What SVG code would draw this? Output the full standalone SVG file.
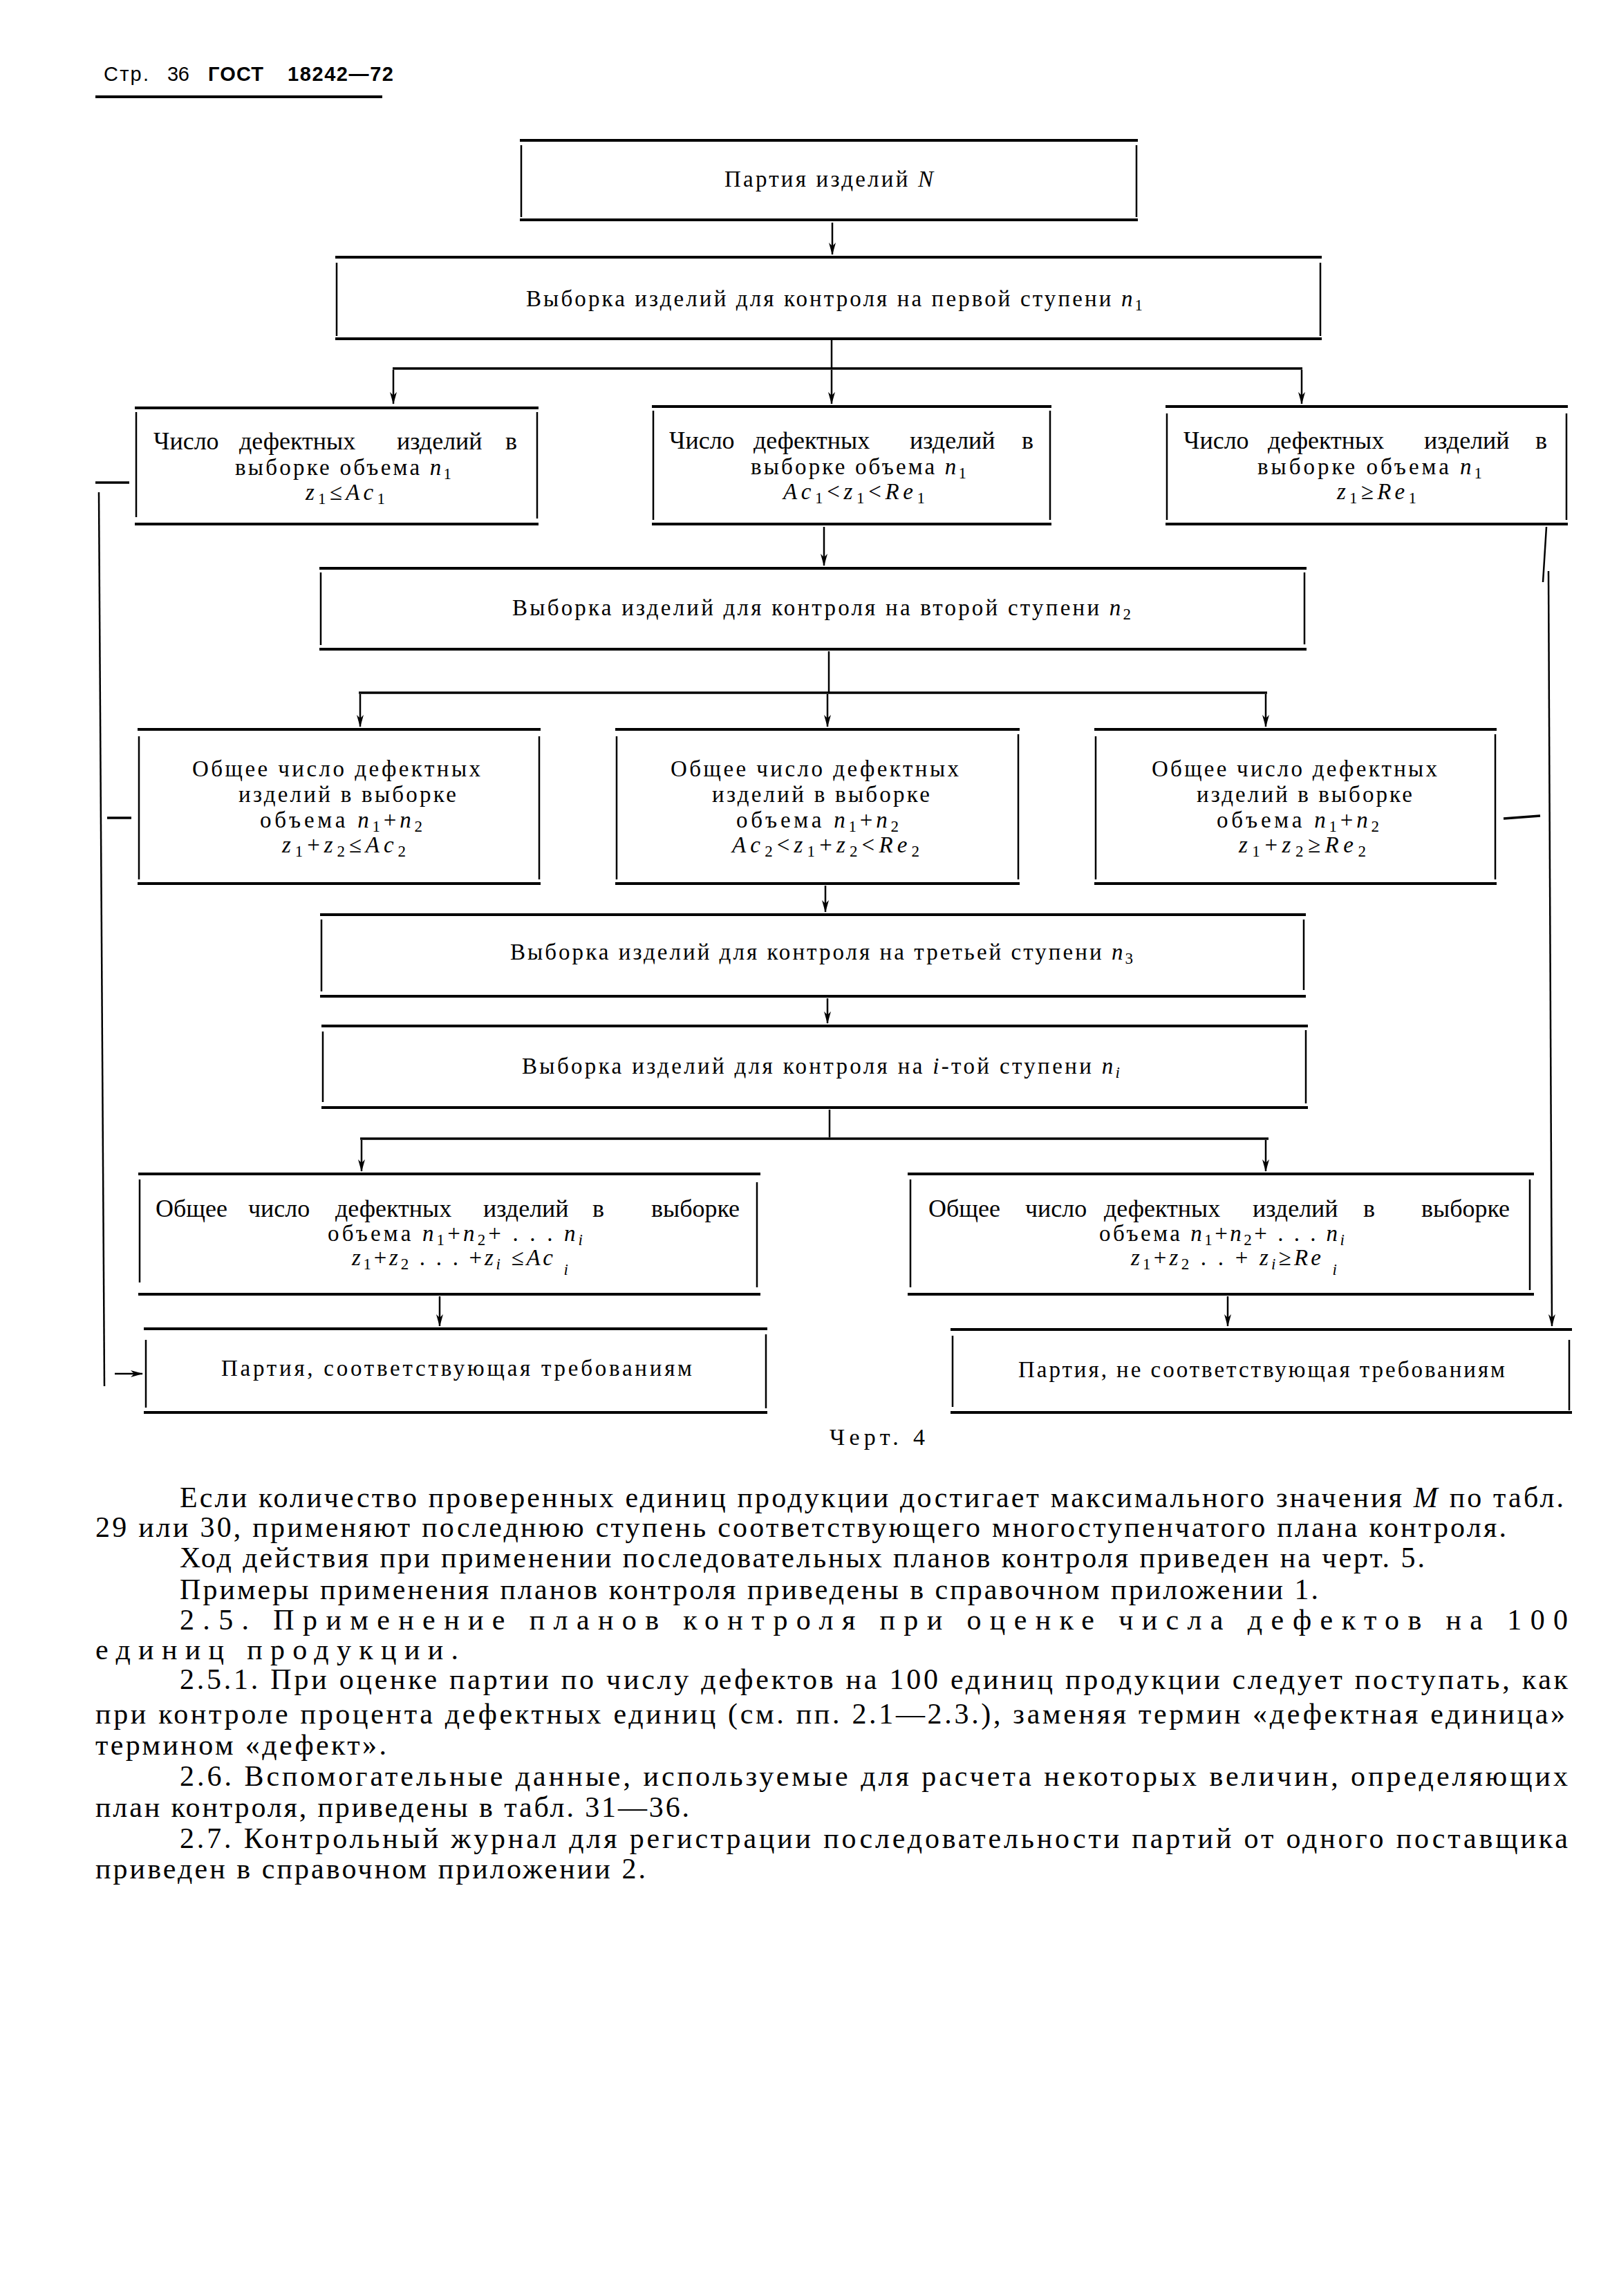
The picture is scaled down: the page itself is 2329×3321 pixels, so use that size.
<svg xmlns="http://www.w3.org/2000/svg" width="2329" height="3321" viewBox="0 0 2329 3321">
<style>
  .bh{fill:none;stroke:#000;stroke-width:4;stroke-linecap:square}
  .bv{fill:none;stroke:#000;stroke-width:2.5}
  .t{font-family:"Liberation Serif","DejaVu Serif",serif;font-size:33px;fill:#000}
  .w{font-size:36px}
  .s{font-size:23px}
  .p{font-family:"Liberation Serif","DejaVu Serif",serif;font-size:42px;fill:#000}
  .cap{font-family:"Liberation Serif","DejaVu Serif",serif;font-size:34px;fill:#000}
  .hd{font-family:"Liberation Sans","DejaVu Sans",sans-serif;font-size:29px;fill:#000}
  .i{font-style:italic}
  .cn{fill:none;stroke:#000;stroke-width:2.5}
  .ch{fill:none;stroke:#000;stroke-width:3.5}
</style>
<defs>
  <marker id="ar" viewBox="0 0 18 10" markerWidth="18" markerHeight="10" refX="17" refY="5" orient="auto" markerUnits="userSpaceOnUse">
    <path d="M0,0 L18,5 L0,10 L5,5 z" fill="#000"/>
  </marker>
</defs>
<rect width="2329" height="3321" fill="#fff"/>

<g id="header">
  <text class="hd" x="150" y="117" textLength="65" lengthAdjust="spacing">Стр.</text>
  <text class="hd" x="242" y="117" textLength="32" lengthAdjust="spacing">36</text>
  <text class="hd" x="301" y="117" font-weight="bold" textLength="80" lengthAdjust="spacing">ГОСТ</text>
  <text class="hd" x="416" y="117" font-weight="bold" textLength="153" lengthAdjust="spacing">18242—72</text>
  <line x1="138" y1="140" x2="553" y2="140" stroke="#000" stroke-width="4"/>
</g>

<g id="connectors">
  <line class="cn" x1="1204" y1="322" x2="1204" y2="368" marker-end="url(#ar)"/>
  <line class="cn" x1="1203" y1="492" x2="1203" y2="533"/>
  <line class="ch" x1="568" y1="533" x2="1884" y2="533"/>
  <line class="cn" x1="569" y1="535" x2="569" y2="584" marker-end="url(#ar)"/>
  <line class="cn" x1="1203" y1="535" x2="1203" y2="584" marker-end="url(#ar)"/>
  <line class="cn" x1="1883" y1="535" x2="1883" y2="584" marker-end="url(#ar)"/>
  <line class="cn" x1="1192" y1="762" x2="1192" y2="818" marker-end="url(#ar)"/>
  <line class="cn" x1="1199" y1="942" x2="1199" y2="1002"/>
  <line class="ch" x1="519" y1="1002" x2="1833" y2="1002"/>
  <line class="cn" x1="521" y1="1004" x2="521" y2="1051" marker-end="url(#ar)"/>
  <line class="cn" x1="1197" y1="1004" x2="1197" y2="1051" marker-end="url(#ar)"/>
  <line class="cn" x1="1831" y1="1004" x2="1831" y2="1051" marker-end="url(#ar)"/>
  <line class="cn" x1="1194" y1="1281" x2="1194" y2="1319" marker-end="url(#ar)"/>
  <line class="cn" x1="1197" y1="1444" x2="1197" y2="1480" marker-end="url(#ar)"/>
  <line class="cn" x1="1200" y1="1605" x2="1200" y2="1645"/>
  <line class="ch" x1="521" y1="1647" x2="1835" y2="1647"/>
  <line class="cn" x1="523" y1="1649" x2="523" y2="1694" marker-end="url(#ar)"/>
  <line class="cn" x1="1831" y1="1649" x2="1831" y2="1694" marker-end="url(#ar)"/>
  <line class="cn" x1="636" y1="1875" x2="636" y2="1918" marker-end="url(#ar)"/>
  <line class="cn" x1="1776" y1="1875" x2="1776" y2="1918" marker-end="url(#ar)"/>
  <line class="ch" x1="138" y1="698" x2="187" y2="698"/>
  <line class="ch" x1="155" y1="1183" x2="190" y2="1183"/>
  <line class="cn" x1="143" y1="712" x2="151" y2="2005"/>
  <line class="cn" x1="166" y1="1987" x2="206" y2="1987" marker-end="url(#ar)"/>
  <line class="cn" x1="2237" y1="762" x2="2232" y2="842"/>
  <line class="ch" x1="2175" y1="1184" x2="2228" y2="1180"/>
  <line class="cn" x1="2240" y1="826" x2="2245" y2="1918" marker-end="url(#ar)"/>
</g>

<g id="n_lot">
  <path class="bh" d="M754,203 H1644 M754,318 H1644"/>
  <path class="bv" d="M754,210 V314 M1644,210 V314"/>
  <text class="t" x="1048" y="270" textLength="302" lengthAdjust="spacing">Партия изделий <tspan class="i">N</tspan></text>
</g>

<g id="n_stage1">
  <path class="bh" d="M487,372 H1910 M487,490 H1910"/>
  <path class="bv" d="M487,380 V486 M1910,380 V486"/>
  <text class="t" x="761" y="443" textLength="892" lengthAdjust="spacing">Выборка изделий для контроля на первой ступени <tspan class="i">n</tspan><tspan class="s" dy="6">1</tspan></text>
</g>

<g id="n_a1">
  <path class="bh" d="M197,590 H777 M197,758 H777"/>
  <path class="bv" d="M197,596 V748 M777,596 V750"/>
  <text class="t w" y="650"><tspan x="222">Число</tspan><tspan x="346">дефектных</tspan><tspan x="574">изделий</tspan><tspan x="731">в</tspan></text>
  <text class="t" x="340" y="687" textLength="313" lengthAdjust="spacing">выборке объема <tspan class="i">n</tspan><tspan class="s" dy="6">1</tspan></text>
  <text class="t" x="442" y="723" textLength="115" lengthAdjust="spacing"><tspan class="i">z</tspan><tspan class="s" dy="6">1</tspan><tspan dy="-6">≤</tspan><tspan class="i">Ac</tspan><tspan class="s" dy="6">1</tspan></text>
</g>

<g id="n_a2">
  <path class="bh" d="M945,588 H1519 M945,758 H1519"/>
  <path class="bv" d="M945,594 V752 M1519,594 V752"/>
  <text class="t w" y="649"><tspan x="968">Число</tspan><tspan x="1090">дефектных</tspan><tspan x="1316">изделий</tspan><tspan x="1478">в</tspan></text>
  <text class="t" x="1086" y="686" textLength="312" lengthAdjust="spacing">выборке объема <tspan class="i">n</tspan><tspan class="s" dy="6">1</tspan></text>
  <text class="t" x="1133" y="722" textLength="205" lengthAdjust="spacing"><tspan class="i">Ac</tspan><tspan class="s" dy="6">1</tspan><tspan dy="-6">&lt;</tspan><tspan class="i">z</tspan><tspan class="s" dy="6">1</tspan><tspan dy="-6">&lt;</tspan><tspan class="i">Re</tspan><tspan class="s" dy="6">1</tspan></text>
</g>

<g id="n_a3">
  <path class="bh" d="M1688,588 H2266 M1688,758 H2266"/>
  <path class="bv" d="M1688,598 V752 M2266,598 V752"/>
  <text class="t w" y="649"><tspan x="1712">Число</tspan><tspan x="1834">дефектных</tspan><tspan x="2060">изделий</tspan><tspan x="2221">в</tspan></text>
  <text class="t" x="1819" y="686" textLength="325" lengthAdjust="spacing">выборке объема <tspan class="i">n</tspan><tspan class="s" dy="6">1</tspan></text>
  <text class="t" x="1934" y="722" textLength="115" lengthAdjust="spacing"><tspan class="i">z</tspan><tspan class="s" dy="6">1</tspan><tspan dy="-6">≥</tspan><tspan class="i">Re</tspan><tspan class="s" dy="6">1</tspan></text>
</g>

<g id="n_stage2">
  <path class="bh" d="M464,822 H1888 M464,939 H1888"/>
  <path class="bv" d="M464,828 V933 M1887,828 V932"/>
  <text class="t" x="741" y="890" textLength="895" lengthAdjust="spacing">Выборка изделий для контроля на второй ступени <tspan class="i">n</tspan><tspan class="s" dy="6">2</tspan></text>
</g>

<g id="n_c1">
  <path class="bh" d="M201,1055 H780 M201,1278 H780"/>
  <path class="bv" d="M201,1065 V1272 M780,1065 V1272"/>
  <text class="t" x="278" y="1123" textLength="417" lengthAdjust="spacing">Общее число дефектных</text>
  <text class="t" x="345" y="1160" textLength="315" lengthAdjust="spacing">изделий в выборке</text>
  <text class="t" x="376" y="1197" textLength="235" lengthAdjust="spacing">объема <tspan class="i">n</tspan><tspan class="s" dy="6">1</tspan><tspan dy="-6">+</tspan><tspan class="i">n</tspan><tspan class="s" dy="6">2</tspan></text>
  <text class="t" x="408" y="1233" textLength="179" lengthAdjust="spacing"><tspan class="i">z</tspan><tspan class="s" dy="6">1</tspan><tspan dy="-6">+</tspan><tspan class="i">z</tspan><tspan class="s" dy="6">2</tspan><tspan dy="-6">≤</tspan><tspan class="i">Ac</tspan><tspan class="s" dy="6">2</tspan></text>
</g>

<g id="n_c2">
  <path class="bh" d="M892,1055 H1473 M892,1278 H1473"/>
  <path class="bv" d="M892,1065 V1272 M1473,1062 V1272"/>
  <text class="t" x="970" y="1123" textLength="417" lengthAdjust="spacing">Общее число дефектных</text>
  <text class="t" x="1030" y="1160" textLength="315" lengthAdjust="spacing">изделий в выборке</text>
  <text class="t" x="1065" y="1197" textLength="235" lengthAdjust="spacing">объема <tspan class="i">n</tspan><tspan class="s" dy="6">1</tspan><tspan dy="-6">+</tspan><tspan class="i">n</tspan><tspan class="s" dy="6">2</tspan></text>
  <text class="t" x="1059" y="1233" textLength="271" lengthAdjust="spacing"><tspan class="i">Ac</tspan><tspan class="s" dy="6">2</tspan><tspan dy="-6">&lt;</tspan><tspan class="i">z</tspan><tspan class="s" dy="6">1</tspan><tspan dy="-6">+</tspan><tspan class="i">z</tspan><tspan class="s" dy="6">2</tspan><tspan dy="-6">&lt;</tspan><tspan class="i">Re</tspan><tspan class="s" dy="6">2</tspan></text>
</g>

<g id="n_c3">
  <path class="bh" d="M1585,1055 H2163 M1585,1278 H2163"/>
  <path class="bv" d="M1585,1065 V1272 M2163,1062 V1272"/>
  <text class="t" x="1666" y="1123" textLength="413" lengthAdjust="spacing">Общее число дефектных</text>
  <text class="t" x="1731" y="1160" textLength="312" lengthAdjust="spacing">изделий в выборке</text>
  <text class="t" x="1760" y="1197" textLength="235" lengthAdjust="spacing">объема <tspan class="i">n</tspan><tspan class="s" dy="6">1</tspan><tspan dy="-6">+</tspan><tspan class="i">n</tspan><tspan class="s" dy="6">2</tspan></text>
  <text class="t" x="1792" y="1233" textLength="184" lengthAdjust="spacing"><tspan class="i">z</tspan><tspan class="s" dy="6">1</tspan><tspan dy="-6">+</tspan><tspan class="i">z</tspan><tspan class="s" dy="6">2</tspan><tspan dy="-6">≥</tspan><tspan class="i">Re</tspan><tspan class="s" dy="6">2</tspan></text>
</g>

<g id="n_stage3">
  <path class="bh" d="M465,1323 H1887 M465,1441 H1887"/>
  <path class="bv" d="M465,1330 V1434 M1886,1330 V1432"/>
  <text class="t" x="738" y="1388" textLength="901" lengthAdjust="spacing">Выборка изделий для контроля на третьей ступени <tspan class="i">n</tspan><tspan class="s" dy="6">3</tspan></text>
</g>

<g id="n_stagei">
  <path class="bh" d="M467,1484 H1890 M467,1602 H1890"/>
  <path class="bv" d="M467,1492 V1594 M1889,1490 V1596"/>
  <text class="t" x="755" y="1553" textLength="865" lengthAdjust="spacing">Выборка изделий для контроля на <tspan class="i">i</tspan>-той ступени <tspan class="i">n</tspan><tspan class="i s" dy="6">i</tspan></text>
</g>

<g id="n_f1">
  <path class="bh" d="M202,1698 H1098 M202,1872 H1098"/>
  <path class="bv" d="M202,1706 V1855 M1095,1710 V1862"/>
  <text class="t w" y="1760"><tspan x="225">Общее</tspan><tspan x="359">число</tspan><tspan x="485">дефектных</tspan><tspan x="699">изделий</tspan><tspan x="857">в</tspan><tspan x="942">выборке</tspan></text>
  <text class="t" x="474" y="1795" textLength="369" lengthAdjust="spacing">объема <tspan class="i">n</tspan><tspan class="s" dy="6">1</tspan><tspan dy="-6">+</tspan><tspan class="i">n</tspan><tspan class="s" dy="6">2</tspan><tspan dy="-6">+ . . . </tspan><tspan class="i">n</tspan><tspan class="i s" dy="6">i</tspan></text>
  <text class="t" x="509" y="1830" textLength="313" lengthAdjust="spacing"><tspan class="i">z</tspan><tspan class="s" dy="6">1</tspan><tspan dy="-6">+</tspan><tspan class="i">z</tspan><tspan class="s" dy="6">2</tspan><tspan dy="-6"> . . . +</tspan><tspan class="i">z</tspan><tspan class="i s" dy="6">i</tspan><tspan dy="-6"> ≤</tspan><tspan class="i">Ac </tspan><tspan class="i s" dy="14">i</tspan></text>
</g>

<g id="n_f2">
  <path class="bh" d="M1315,1698 H2217 M1315,1872 H2217"/>
  <path class="bv" d="M1317,1706 V1862 M2213,1706 V1866"/>
  <text class="t w" y="1760"><tspan x="1343">Общее</tspan><tspan x="1483">число</tspan><tspan x="1597">дефектных</tspan><tspan x="1812">изделий</tspan><tspan x="1972">в</tspan><tspan x="2056">выборке</tspan></text>
  <text class="t" x="1590" y="1795" textLength="355" lengthAdjust="spacing">объема <tspan class="i">n</tspan><tspan class="s" dy="6">1</tspan><tspan dy="-6">+</tspan><tspan class="i">n</tspan><tspan class="s" dy="6">2</tspan><tspan dy="-6">+ . . . </tspan><tspan class="i">n</tspan><tspan class="i s" dy="6">i</tspan></text>
  <text class="t" x="1636" y="1830" textLength="298" lengthAdjust="spacing"><tspan class="i">z</tspan><tspan class="s" dy="6">1</tspan><tspan dy="-6">+</tspan><tspan class="i">z</tspan><tspan class="s" dy="6">2</tspan><tspan dy="-6"> . . + </tspan><tspan class="i">z</tspan><tspan class="i s" dy="6">i</tspan><tspan dy="-6">≥</tspan><tspan class="i">Re </tspan><tspan class="i s" dy="14">i</tspan></text>
</g>

<g id="n_accept">
  <path class="bh" d="M210,1922 H1108 M210,2043 H1108"/>
  <path class="bv" d="M211,1938 V2036 M1108,1930 V2037"/>
  <text class="t" x="320" y="1990" textLength="681" lengthAdjust="spacing">Партия, соответствующая требованиям</text>
</g>

<g id="n_reject">
  <path class="bh" d="M1377,1923 H2272 M1377,2043 H2272"/>
  <path class="bv" d="M1378,1932 V2035 M2270,1938 V2040"/>
  <text class="t" x="1473" y="1992" textLength="704" lengthAdjust="spacing">Партия, не соответствующая требованиям</text>
</g>

<g id="caption">
  <text class="cap" x="1200" y="2090" textLength="138" lengthAdjust="spacing">Черт. 4</text>
</g>

<g id="body">
  <text class="p" x="260" y="2180" textLength="2002" lengthAdjust="spacing">Если количество проверенных единиц продукции достигает максимального значения <tspan class="i">M</tspan> по табл.</text>
  <text class="p" x="138" y="2223" textLength="2041" lengthAdjust="spacing">29 или 30, применяют последнюю ступень соответствующего многоступенчатого плана контроля.</text>
  <text class="p" x="260" y="2267" textLength="1801" lengthAdjust="spacing">Ход действия при применении последовательных планов контроля приведен на черт. 5.</text>
  <text class="p" x="260" y="2313" textLength="1647" lengthAdjust="spacing">Примеры применения планов контроля приведены в справочном приложении 1.</text>
  <text class="p" x="260" y="2357" textLength="2008" lengthAdjust="spacing">2.5. Применение планов контроля при оценке числа дефектов на 100</text>
  <text class="p" x="138" y="2400" textLength="525" lengthAdjust="spacing">единиц продукции.</text>
  <text class="p" x="260" y="2443" textLength="2008" lengthAdjust="spacing">2.5.1. При оценке партии по числу дефектов на 100 единиц продукции следует поступать, как</text>
  <text class="p" x="138" y="2493" textLength="2126" lengthAdjust="spacing">при контроле процента дефектных единиц (см. пп. 2.1—2.3.), заменяя термин «дефектная единица»</text>
  <text class="p" x="138" y="2538" textLength="421" lengthAdjust="spacing">термином «дефект».</text>
  <text class="p" x="260" y="2583" textLength="2008" lengthAdjust="spacing">2.6. Вспомогательные данные, используемые для расчета некоторых величин, определяющих</text>
  <text class="p" x="138" y="2628" textLength="859" lengthAdjust="spacing">план контроля, приведены в табл. 31—36.</text>
  <text class="p" x="260" y="2673" textLength="2008" lengthAdjust="spacing">2.7. Контрольный журнал для регистрации последовательности партий от одного поставщика</text>
  <text class="p" x="138" y="2717" textLength="796" lengthAdjust="spacing">приведен в справочном приложении 2.</text>
</g>
</svg>
